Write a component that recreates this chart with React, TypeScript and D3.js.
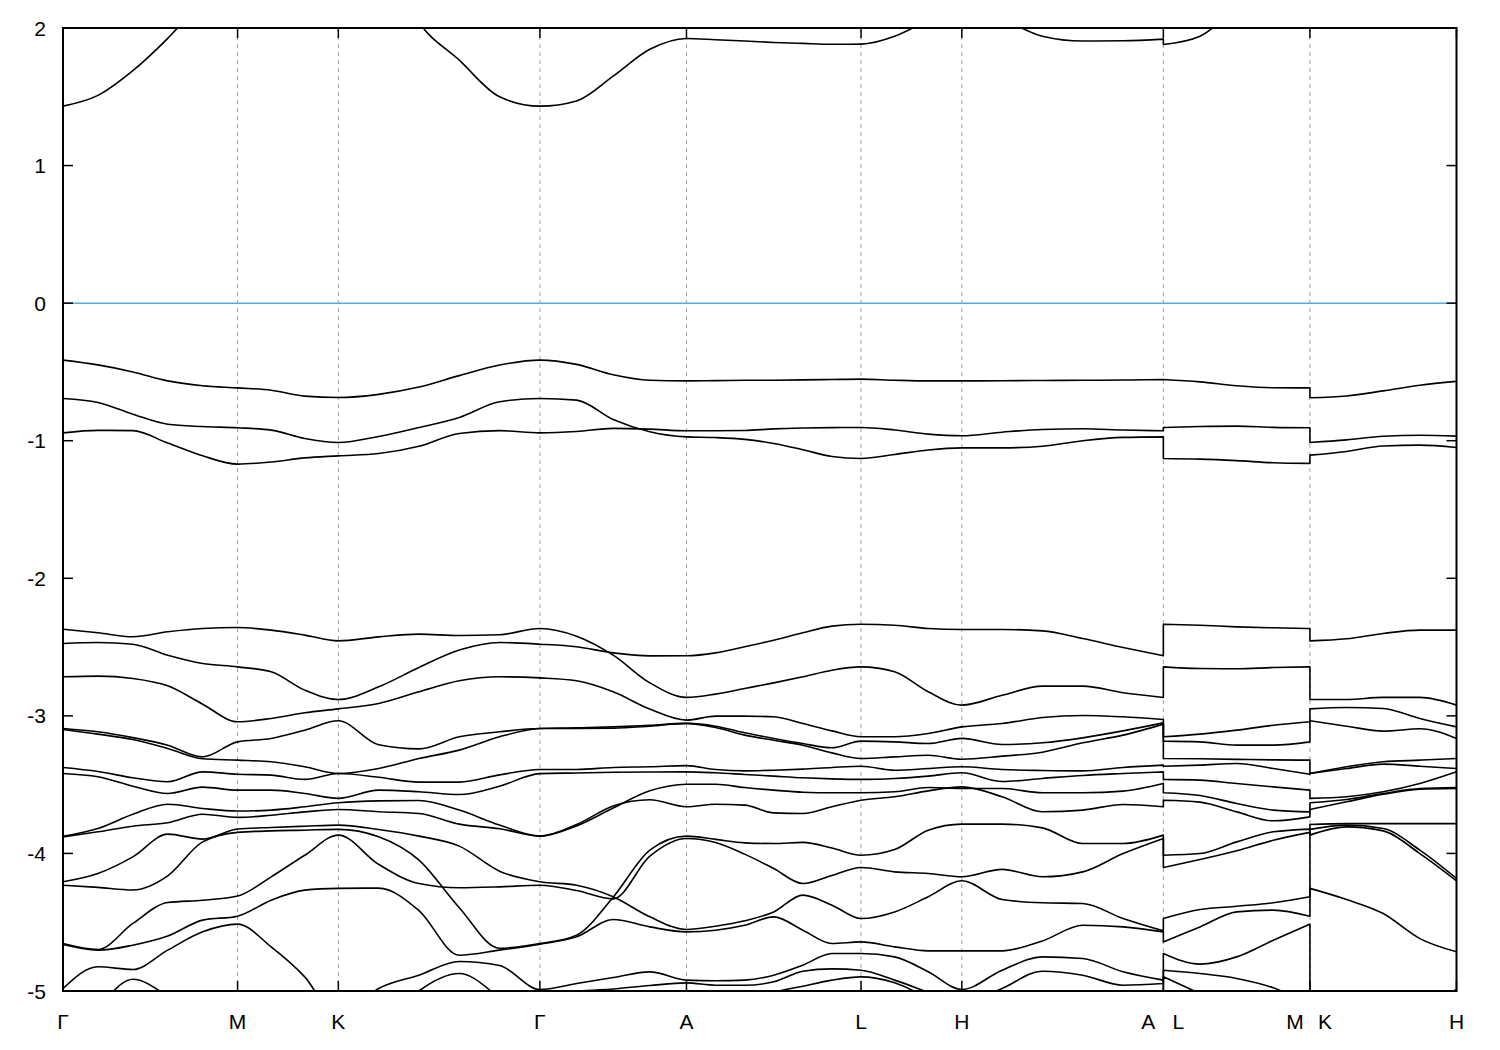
import React, { useRef, useEffect } from 'react';
import * as d3 from 'd3';

// high-symmetry points along the path (k in 1/Å-like units)
const tickLabels = ['Γ', 'M', 'K', 'Γ', 'A', 'L', 'H', 'A|L', 'M|K', 'H'];
const tickK = [0, 0.5774, 0.9107, 1.5774, 2.0622, 2.6396, 2.9729, 3.6396, 4.1244, 4.6092];
// continuous pieces of the path: [from tick, to tick, number of intervals]
const pieces = [
  [[0, 1, 5], [1, 2, 3], [2, 3, 5], [3, 4, 4], [4, 5, 6], [5, 6, 3], [6, 7, 5]],
  [[7, 8, 4]],
  [[8, 9, 4]],
];
const yTicks = [2, 1, 0, -1, -2, -3, -4, -5];

// band energies (eV) at the sample points, Γ-M-K-Γ-A-L-H-A | L-M | K-H
const c1 = [1.432, 1.51, 1.69, 1.925, 2.2, 2.45, 2.6, 2.7, 2.75, 2.6, 2.04, 1.766, 1.5, 1.432,
  1.47, 1.65, 1.845, 1.924, 1.915, 1.905, 1.895, 1.888, 1.882, 1.883, 1.94, 2.06, 2.2,
  2.07, 1.94, 1.905, 1.907, 1.919, 1.88, 1.94, 2.15, 2.35, 2.45, 2.75, 2.7, 2.6, 2.5, 2.45];
const v1 = [-0.414, -0.449, -0.5, -0.565, -0.6, -0.616, -0.633, -0.676, -0.686, -0.663, -0.61, -0.527, -0.45, -0.414,
  -0.445, -0.52, -0.56, -0.565, -0.563, -0.561, -0.56, -0.558, -0.555, -0.552, -0.56, -0.565, -0.565,
  -0.564, -0.562, -0.561, -0.559, -0.555, -0.555, -0.572, -0.6, -0.615, -0.616, -0.688, -0.675, -0.638, -0.597, -0.569];
const v2 = [-0.693, -0.722, -0.807, -0.88, -0.897, -0.906, -0.923, -0.984, -1.013, -0.969, -0.904, -0.831, -0.717, -0.693,
  -0.705, -0.846, -0.935, -0.972, -0.977, -0.99, -1.02, -1.065, -1.115, -1.129, -1.1, -1.067, -1.052,
  -1.052, -1.04, -1.0, -0.976, -0.972, -1.129, -1.134, -1.145, -1.16, -1.165, -1.105, -1.078, -1.038, -1.032, -1.049];
const v3 = [-0.943, -0.925, -0.927, -1.017, -1.11, -1.17, -1.155, -1.125, -1.11, -1.093, -1.04, -0.947, -0.927, -0.943,
  -0.933, -0.91, -0.916, -0.928, -0.928, -0.926, -0.914, -0.908, -0.905, -0.904, -0.922, -0.952, -0.964,
  -0.938, -0.918, -0.913, -0.922, -0.928, -0.904, -0.897, -0.894, -0.903, -0.906, -1.013, -0.994, -0.968, -0.96, -0.967];
const v4 = [-2.37, -2.396, -2.425, -2.389, -2.365, -2.358, -2.377, -2.413, -2.455, -2.426, -2.406, -2.416, -2.41, -2.365,
  -2.421, -2.559, -2.76, -2.866, -2.842, -2.801, -2.76, -2.716, -2.668, -2.644, -2.68, -2.825, -2.922,
  -2.85, -2.784, -2.784, -2.832, -2.866, -2.644, -2.656, -2.658, -2.649, -2.644, -2.881, -2.881, -2.866, -2.866, -2.922];
const v5 = [-2.474, -2.467, -2.479, -2.559, -2.619, -2.644, -2.68, -2.813, -2.881, -2.789, -2.648, -2.522, -2.467, -2.479,
  -2.498, -2.542, -2.564, -2.563, -2.542, -2.498, -2.45, -2.396, -2.348, -2.334, -2.341, -2.365, -2.372,
  -2.372, -2.382, -2.438, -2.503, -2.563, -2.334, -2.341, -2.353, -2.36, -2.365, -2.455, -2.44, -2.401, -2.377, -2.377];
const v6 = [-2.716, -2.711, -2.728, -2.782, -2.915, -3.043, -3.019, -2.978, -2.949, -2.91, -2.825, -2.745, -2.716, -2.724,
  -2.745, -2.825, -2.951, -3.031, -3.002, -3.002, -3.007, -3.056, -3.109, -3.152, -3.152, -3.128, -3.08,
  -3.056, -3.012, -2.997, -3.007, -3.026, -3.152, -3.133, -3.104, -3.068, -3.043, -2.949, -2.939, -2.946, -3.019, -3.08];
const v7 = [-3.092, -3.116, -3.158, -3.213, -3.298, -3.189, -3.164, -3.104, -3.036, -3.21, -3.24, -3.152, -3.116, -3.092,
  -3.092, -3.09, -3.075, -3.055, -3.075, -3.123, -3.164, -3.201, -3.232, -3.184, -3.189, -3.201, -3.164,
  -3.208, -3.196, -3.16, -3.109, -3.051, -3.184, -3.189, -3.213, -3.213, -3.189, -3.036, -3.075, -3.111, -3.094, -3.164];
const v8 = [-3.099, -3.133, -3.172, -3.237, -3.312, -3.322, -3.334, -3.37, -3.419, -3.383, -3.31, -3.249, -3.152, -3.092,
  -3.087, -3.08, -3.068, -3.055, -3.085, -3.14, -3.177, -3.213, -3.269, -3.31, -3.298, -3.286, -3.315,
  -3.293, -3.264, -3.196, -3.14, -3.06, -3.31, -3.312, -3.316, -3.32, -3.322, -3.419, -3.37, -3.334, -3.322, -3.31];
const v9 = [-3.375, -3.404, -3.45, -3.479, -3.407, -3.424, -3.431, -3.462, -3.419, -3.446, -3.482, -3.482, -3.429, -3.39,
  -3.39, -3.375, -3.37, -3.362, -3.39, -3.4, -3.395, -3.387, -3.375, -3.366, -3.395, -3.383, -3.37,
  -3.39, -3.397, -3.4, -3.375, -3.358, -3.366, -3.358, -3.346, -3.383, -3.424, -3.419, -3.383, -3.351, -3.366, -3.383];
const v10 = [-3.419, -3.443, -3.511, -3.564, -3.518, -3.54, -3.54, -3.564, -3.6, -3.54, -3.552, -3.572, -3.511, -3.42,
  -3.415, -3.41, -3.408, -3.407, -3.414, -3.426, -3.438, -3.45, -3.458, -3.462, -3.455, -3.438, -3.414,
  -3.477, -3.455, -3.433, -3.419, -3.407, -3.462, -3.467, -3.492, -3.516, -3.54, -3.6, -3.588, -3.552, -3.492, -3.407];
const v11 = [-3.875, -3.819, -3.715, -3.642, -3.673, -3.692, -3.685, -3.661, -3.632, -3.618, -3.615, -3.685, -3.794, -3.874,
  -3.8, -3.67, -3.545, -3.497, -3.497, -3.521, -3.54, -3.555, -3.559, -3.559, -3.552, -3.521, -3.528,
  -3.528, -3.559, -3.559, -3.547, -3.492, -3.559, -3.579, -3.637, -3.685, -3.698, -3.632, -3.608, -3.564, -3.528, -3.521];
const v12 = [-3.88, -3.843, -3.802, -3.777, -3.715, -3.738, -3.722, -3.698, -3.681, -3.697, -3.71, -3.787, -3.821, -3.874,
  -3.79, -3.655, -3.61, -3.661, -3.642, -3.649, -3.705, -3.71, -3.661, -3.613, -3.588, -3.545, -3.516,
  -3.588, -3.697, -3.685, -3.644, -3.661, -3.613, -3.627, -3.698, -3.763, -3.734, -3.681, -3.625, -3.57, -3.533, -3.528];
const v13 = [-4.206, -4.146, -4.025, -3.86, -3.896, -3.823, -3.811, -3.802, -3.794, -3.826, -3.874, -3.947, -4.129, -4.206,
  -4.231, -4.315, -4.461, -4.553, -4.529, -4.49, -4.425, -4.303, -4.376, -4.473, -4.425, -4.315, -4.199,
  -4.335, -4.359, -4.364, -4.473, -4.563, -4.473, -4.408, -4.384, -4.359, -4.315, -3.79, -3.783, -3.783, -3.783, -3.783];
const v14 = [-4.231, -4.247, -4.266, -4.163, -3.916, -3.847, -3.836, -3.831, -3.825, -3.879, -4.049, -4.395, -4.689, -4.655,
  -4.594, -4.318, -3.976, -3.874, -3.898, -3.923, -3.928, -3.92, -3.961, -4.013, -3.972, -3.831, -3.787,
  -3.787, -3.814, -3.928, -3.928, -3.867, -4.013, -4.001, -3.916, -3.843, -3.823, -3.825, -3.794, -3.819, -3.976, -4.182];
const v15 = [-4.655, -4.698, -4.509, -4.357, -4.34, -4.31, -4.17, -4.013, -3.867, -4.08, -4.219, -4.25, -4.243, -4.231,
  -4.27, -4.33, -4.02, -3.891, -3.92, -4.005, -4.11, -4.219, -4.16, -4.102, -4.134, -4.146, -4.17,
  -4.116, -4.17, -4.134, -4.001, -3.891, -4.102, -4.044, -3.981, -3.904, -3.847, -3.867, -3.807, -3.836, -4.001, -4.199];
const v16 = [-4.662, -4.703, -4.667, -4.601, -4.485, -4.456, -4.34, -4.267, -4.254, -4.252, -4.415, -4.74, -4.703, -4.66,
  -4.606, -4.48, -4.534, -4.57, -4.558, -4.522, -4.461, -4.558, -4.655, -4.643, -4.679, -4.708, -4.708,
  -4.708, -4.636, -4.522, -4.534, -4.57, -4.643, -4.534, -4.425, -4.412, -4.456, -4.254, -4.335, -4.437, -4.619, -4.715];
const v17 = [-4.982, -4.824, -4.844, -4.703, -4.57, -4.514, -4.679, -4.897, -5.2, -4.982, -4.885, -4.786, -4.815, -4.989,
  -4.945, -4.902, -4.861, -4.921, -4.926, -4.921, -4.885, -4.812, -4.727, -4.727, -4.752, -4.86, -4.989,
  -4.849, -4.752, -4.764, -4.86, -4.921, -4.727, -4.805, -4.752, -4.631, -4.514, -5.3, -5.25, -5.18, -5.1, -4.99];
const v18 = [-5.4, -5.12, -4.915, -5.04, -5.25, -5.4, -5.5, -5.5, -5.5, -5.3, -5.0, -4.873, -5.05, -5.3,
  -5.005, -4.985, -4.96, -4.941, -4.958, -4.958, -4.933, -4.856, -4.839, -4.849, -4.921, -5.01, -5.1,
  -4.982, -4.856, -4.885, -4.958, -4.946, -4.849, -4.873, -4.909, -4.977, -5.1, -5.5, -5.45, -5.4, -5.35, -5.3];
const v19 = [-5.6, -5.6, -5.6, -5.6, -5.6, -5.6, -5.6, -5.6, -5.6, -5.6, -5.6, -5.6, -5.6, -5.6,
  -5.4, -5.3, -5.25, -5.2, -5.15, -5.1, -5.01, -4.965, -4.921, -4.897, -4.94, -5.05, -5.15,
  -5.2, -5.2, -5.2, -5.2, -5.2, -4.897, -5.02, -5.15, -5.25, -5.3, -5.6, -5.6, -5.6, -5.6, -5.6];

const bands = [c1, v1, v2, v3, v4, v5, v6, v7, v8, v9, v10, v11, v12, v13, v14, v15, v16, v17, v18, v19];

const FONT = "'Liberation Sans', Arial, sans-serif";

export default function App() {
  const svgRef = useRef<SVGSVGElement>(null);

  useEffect(() => {
    if (!svgRef.current) return;
    const width = 1500, height = 1050;
    const left = 63, right = 1456.5, top = 28, bottom = 991;

    const svg = d3.select(svgRef.current).attr('width', width).attr('height', height);
    svg.selectAll('*').remove();
    svg.append('rect').attr('width', width).attr('height', height).attr('fill', '#fff');

    const x = d3.scaleLinear().domain([tickK[0], tickK[tickK.length - 1]]).range([left, right]);
    const y = d3.scaleLinear().domain([-5, 2]).range([bottom, top]);

    // sample k values of each continuous piece
    const pieceK = pieces.map((segs) => {
      const ks = [tickK[segs[0][0]]];
      segs.forEach(([a, b, n]) => {
        for (let i = 1; i <= n; i++) ks.push(tickK[a] + ((tickK[b] - tickK[a]) * i) / n);
      });
      return ks;
    });

    svg.append('clipPath').attr('id', 'plotclip')
      .append('rect').attr('x', left).attr('y', top).attr('width', right - left).attr('height', bottom - top);

    // dashed vertical grid at high-symmetry points
    svg.append('g').selectAll('line')
      .data(tickK.slice(1, -1))
      .enter().append('line')
      .attr('x1', (d) => x(d)).attr('x2', (d) => x(d))
      .attr('y1', top).attr('y2', bottom)
      .attr('stroke', '#a0a0a0').attr('stroke-width', 1).attr('stroke-dasharray', '4,4');

    // Fermi level
    svg.append('line')
      .attr('x1', left).attr('x2', right).attr('y1', y(0)).attr('y2', y(0))
      .attr('stroke', '#50aee3').attr('stroke-width', 1.5);

    const line = d3.line<[number, number]>()
      .x((d) => x(d[0])).y((d) => y(d[1]))
      .curve(d3.curveMonotoneX);

    const g = svg.append('g').attr('clip-path', 'url(#plotclip)');
    bands.forEach((band) => {
      let offset = 0;
      const path = pieceK.map((ks, pi) => {
        const pts = ks.map((k, i) => [k, band[offset + i]] as [number, number]);
        offset += ks.length;
        const s = line(pts) || '';
        return pi === 0 ? s : 'L' + s.slice(1);
      }).join('');
      g.append('path').attr('d', path)
        .attr('fill', 'none').attr('stroke', '#000').attr('stroke-width', 1.6)
        .attr('stroke-linejoin', 'round');
    });

    // frame
    svg.append('rect')
      .attr('x', left).attr('y', top).attr('width', right - left).attr('height', bottom - top)
      .attr('fill', 'none').attr('stroke', '#000').attr('stroke-width', 2);

    // y ticks, both sides
    const yt = svg.append('g');
    yTicks.forEach((t) => {
      yt.append('line').attr('x1', left).attr('x2', left + 10).attr('y1', y(t)).attr('y2', y(t))
        .attr('stroke', '#000').attr('stroke-width', 1.5);
      yt.append('line').attr('x1', right - 10).attr('x2', right).attr('y1', y(t)).attr('y2', y(t))
        .attr('stroke', '#000').attr('stroke-width', 1.5);
      yt.append('text').attr('x', 46).attr('y', y(t)).attr('dy', '0.36em')
        .attr('text-anchor', 'end').attr('font-family', FONT).attr('font-size', 21)
        .text(t);
    });

    // x ticks, both sides
    const xt = svg.append('g');
    tickK.forEach((k, i) => {
      xt.append('line').attr('x1', x(k)).attr('x2', x(k)).attr('y1', bottom).attr('y2', bottom - 10)
        .attr('stroke', '#000').attr('stroke-width', 1.5);
      xt.append('line').attr('x1', x(k)).attr('x2', x(k)).attr('y1', top).attr('y2', top + 10)
        .attr('stroke', '#000').attr('stroke-width', 1.5);
      const parts = tickLabels[i].split('|');
      parts.forEach((p, j) => {
        const dx = parts.length === 1 ? 0 : (j === 0 ? -15 : 15);
        xt.append('text').attr('x', x(k) + dx).attr('y', 1029)
          .attr('text-anchor', 'middle').attr('font-family', FONT).attr('font-size', 21)
          .text(p);
      });
    });
  }, []);

  return <svg ref={svgRef} style={{ position: 'absolute', left: 0, top: 0 }} />;
}
